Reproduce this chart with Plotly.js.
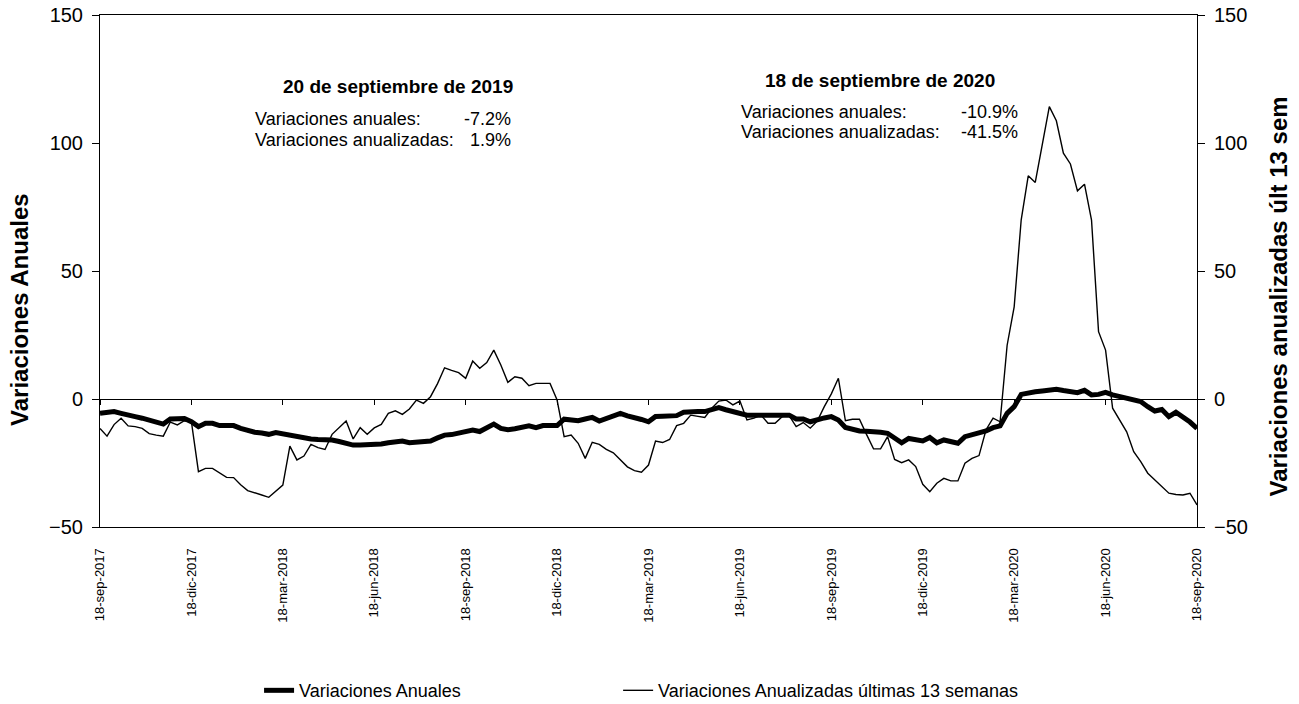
<!DOCTYPE html>
<html>
<head>
<meta charset="utf-8">
<script src="https://cdn.plot.ly/plotly-3.0.1.min.js"></script>
<style>html,body{margin:0;padding:0;background:#fff;}#chart{width:1299px;height:704px;}</style>
</head>
<body>
<div id="chart"></div>
<script>
// Weekly series, 157 observations (index 0 = first week shown at 18-sep-2017)
const variacionesAnuales = [
  -5.6,-5.2,-4.9,-5.6,-6.5,-6.9,-7.5,-8.2,-9.0,-9.8,
  -7.8,-7.5,-7.6,-8.9,-10.8,-9.5,-9.5,-10.4,-10.4,-10.4,
  -11.5,-12.3,-13.0,-13.3,-13.8,-13.1,-13.6,-14.1,-14.6,-15.4,
  -15.6,-15.8,-15.9,-16.0,-16.6,-17.1,-18.0,-18.0,-18.0,-18.0,
  -17.6,-17.1,-16.7,-16.4,-17.1,-16.8,-16.5,-16.4,-15.2,-14.1,
  -13.9,-13.4,-12.8,-12.1,-12.7,-11.3,-9.8,-11.5,-12.0,-11.6,
  -11.0,-10.5,-11.2,-10.4,-10.4,-10.4,-7.9,-8.2,-8.5,-7.8,
  -7.2,-8.6,-7.5,-6.3,-5.6,-6.6,-7.2,-8.0,-8.9,-6.8,
  -6.7,-6.6,-6.5,-5.2,-4.9,-4.9,-4.9,-4.2,-3.4,-4.2,
  -4.9,-5.6,-6.3,-6.3,-6.3,-6.5,-6.3,-6.3,-6.3,-7.8,
  -7.8,-8.9,-7.9,-7.4,-6.9,-8.2,-11.1,-11.8,-12.5,-12.6,
  -12.7,-13.0,-13.4,-15.1,-17.1,-15.4,-16.0,-16.4,-15.0,-17.1,
  -16.0,-16.5,-17.3,-14.7,-14.0,-13.2,-12.5,-11.2,-10.5,-5.6,
  -3.0,1.8,2.5,2.8,3.1,3.4,3.8,3.3,2.8,2.5,
  3.4,1.6,1.8,2.6,1.6,1.0,0.5,-0.3,-1.0,-3.0,
  -4.7,-4.1,-6.9,-5.2,-7.0,-9.0,-11.5
];
const variacionesAnualizadas = [
  -11.5,-14.5,-10.0,-7.5,-10.5,-10.8,-11.5,-13.5,-14.1,-14.5,
  -9.0,-10.1,-8.5,-8.9,-28.4,-27.1,-27.1,-29.0,-30.6,-30.7,
  -33.5,-35.8,-36.8,-37.5,-38.4,-36.0,-33.6,-18.4,-23.8,-22.3,
  -17.7,-19.0,-19.7,-13.8,-11.0,-8.6,-15.6,-11.2,-13.8,-11.3,
  -9.9,-5.6,-4.6,-6.0,-3.9,-0.4,-1.7,0.9,6.0,12.2,
  11.2,10.3,8.1,14.8,12.0,14.2,19.1,13.3,6.5,8.7,
  8.1,5.2,6.1,6.1,6.1,-0.4,-14.7,-14.1,-17.3,-23.2,
  -16.9,-17.7,-19.7,-21.0,-23.8,-26.5,-28.0,-28.6,-25.8,-16.4,
  -17.0,-15.8,-10.4,-9.5,-6.3,-6.8,-7.2,-3.6,-0.8,-0.4,
  -2.3,-0.8,-8.2,-7.5,-6.3,-9.5,-9.5,-6.9,-6.5,-10.8,
  -9.2,-11.4,-8.6,-3.0,2.0,8.1,-8.5,-7.9,-7.9,-13.8,
  -19.5,-19.5,-14.7,-23.6,-24.9,-23.8,-26.4,-33.3,-36.2,-32.9,
  -31.0,-32.0,-32.0,-25.1,-23.2,-22.1,-12.0,-7.5,-8.9,21.0,
  36.0,70.0,87.2,84.6,99.2,114.2,108.7,96.0,91.8,81.3,
  83.9,69.9,26.3,19.1,-3.6,-8.2,-12.8,-20.6,-24.5,-29.0,
  -31.6,-34.2,-36.8,-37.3,-37.5,-36.8,-41.4
];
const tickLabels = ["18-sep-2017","18-dic-2017","18-mar-2018","18-jun-2018","18-sep-2018","18-dic-2018",
  "18-mar-2019","18-jun-2019","18-sep-2019","18-dic-2019","18-mar-2020","18-jun-2020","18-sep-2020"];
const tickStep = 13;
const yTicks = [-50, 0, 50, 100, 150];

const idx = variacionesAnuales.map((_, i) => i);
const tickVals = tickLabels.map((_, k) => k * tickStep);
const xRange = [0, idx.length - 1];
const FONT = '"Liberation Sans", Arial, sans-serif';

const traces = [
  {x: idx, y: variacionesAnuales, type: 'scatter', mode: 'lines', name: 'Variaciones Anuales',
   line: {color: '#000', width: 5}, xaxis: 'x', yaxis: 'y', legend: 'legend'},
  {x: idx, y: variacionesAnualizadas, type: 'scatter', mode: 'lines', name: 'Variaciones Anualizadas últimas 13 semanas',
   line: {color: '#000', width: 1.4}, xaxis: 'x2', yaxis: 'y2', legend: 'legend2'}
];

const layout = {
  width: 1299, height: 704,
  margin: {l: 100, r: 102, t: 15, b: 177},
  paper_bgcolor: '#fff', plot_bgcolor: '#fff',
  font: {family: FONT, color: '#000', size: 18},
  showlegend: true,
  xaxis: {range: xRange, tickmode: 'array', tickvals: tickVals, ticktext: tickLabels,
    tickangle: -90, tickfont: {size: 13}, ticks: '', showgrid: false, zeroline: false,
    showline: true, linecolor: '#000', linewidth: 1, mirror: true, ticklabelstandoff: 15,
    fixedrange: true},
  xaxis2: {range: xRange, overlaying: 'x', anchor: 'free', position: 0.25, side: 'bottom',
    tickmode: 'array', tickvals: tickVals, showticklabels: false, ticks: 'outside', ticklen: 5,
    tickcolor: '#000', showgrid: false, zeroline: false, showline: true, linecolor: '#000', linewidth: 1},
  yaxis: {range: [-50, 150], tickmode: 'array', tickvals: yTicks, ticks: 'outside', ticklen: 7,
    tickcolor: '#000', showgrid: false, zeroline: false, showline: true, linecolor: '#000', linewidth: 1,
    tickfont: {size: 20}, ticklabelstandoff: 5},
  yaxis2: {range: [-50, 150], overlaying: 'y', side: 'right', tickmode: 'array', tickvals: yTicks,
    ticks: 'outside', ticklen: 7, tickcolor: '#000', showgrid: false, zeroline: false, showline: true,
    linecolor: '#000', linewidth: 1, tickfont: {size: 20}, ticklabelstandoff: 5},
  legend: {orientation: 'h', x: 0.145, xanchor: 'left', yref: 'container', y: 0.019, yanchor: 'middle',
    font: {size: 18}, bgcolor: 'rgba(0,0,0,0)'},
  legend2: {orientation: 'h', x: 0.4723, xanchor: 'left', yref: 'container', y: 0.019, yanchor: 'middle',
    font: {size: 18}, bgcolor: 'rgba(0,0,0,0)'},
  annotations: [
    {text: '<b>Variaciones Anuales</b>', xref: 'paper', yref: 'paper', x: -0.0729, y: 0.424,
     textangle: -90, showarrow: false, font: {size: 24}, xanchor: 'center', yanchor: 'middle'},
    {text: '<b>Variaciones anualizadas últ 13 sem</b>', xref: 'paper', yref: 'paper', x: 1.0747, y: 0.45,
     textangle: -90, showarrow: false, font: {size: 24}, xanchor: 'center', yanchor: 'middle'},
    {text: '<b>20 de septiembre de 2019</b>', xref: 'paper', yref: 'paper', x: 0.2717, y: 0.86,
     showarrow: false, font: {size: 19}, xanchor: 'center', yanchor: 'middle'},
    {text: 'Variaciones anuales:', xref: 'paper', yref: 'paper', x: 0.1395, y: 0.797,
     showarrow: false, font: {size: 18}, xanchor: 'left', yanchor: 'middle'},
    {text: '-7.2%', xref: 'paper', yref: 'paper', x: 0.3765, y: 0.797,
     showarrow: false, font: {size: 18}, xanchor: 'right', yanchor: 'middle'},
    {text: 'Variaciones anualizadas:', xref: 'paper', yref: 'paper', x: 0.1395, y: 0.756,
     showarrow: false, font: {size: 18}, xanchor: 'left', yanchor: 'middle'},
    {text: '1.9%', xref: 'paper', yref: 'paper', x: 0.3765, y: 0.756,
     showarrow: false, font: {size: 18}, xanchor: 'right', yanchor: 'middle'},
    {text: '<b>18 de septiembre de 2020</b>', xref: 'paper', yref: 'paper', x: 0.711, y: 0.873,
     showarrow: false, font: {size: 19}, xanchor: 'center', yanchor: 'middle'},
    {text: 'Variaciones anuales:', xref: 'paper', yref: 'paper', x: 0.5825, y: 0.811,
     showarrow: false, font: {size: 18}, xanchor: 'left', yanchor: 'middle'},
    {text: '-10.9%', xref: 'paper', yref: 'paper', x: 0.8387, y: 0.811,
     showarrow: false, font: {size: 18}, xanchor: 'right', yanchor: 'middle'},
    {text: 'Variaciones anualizadas:', xref: 'paper', yref: 'paper', x: 0.5825, y: 0.7715,
     showarrow: false, font: {size: 18}, xanchor: 'left', yanchor: 'middle'},
    {text: '-41.5%', xref: 'paper', yref: 'paper', x: 0.8387, y: 0.7715,
     showarrow: false, font: {size: 18}, xanchor: 'right', yanchor: 'middle'}
  ]
};

Plotly.newPlot('chart', traces, layout, {staticPlot: true, displayModeBar: false});
</script>
</body>
</html>
